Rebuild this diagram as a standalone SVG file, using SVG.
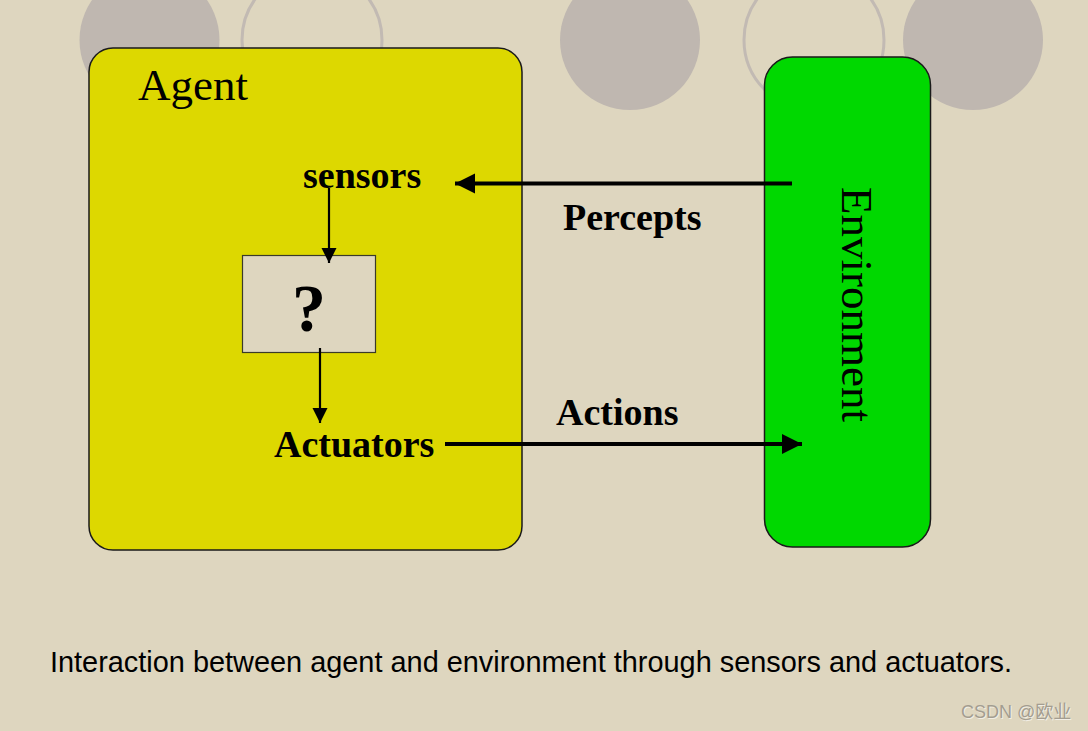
<svg xmlns="http://www.w3.org/2000/svg" width="1088" height="731" viewBox="0 0 1088 731">
<defs>
<style>
.bgc{fill:#BFB7B0;stroke:none}
.oc{fill:none;stroke:#C2BAB3;stroke-width:3}
.box{stroke:#1a1a1a;stroke-width:1.5}
.lbl{font-family:"Liberation Serif","Times New Roman",serif;font-weight:bold;font-size:38px;fill:#000}
.title{font-family:"Liberation Serif","Times New Roman",serif;font-size:45px;fill:#000}
.thin{stroke:#000;stroke-width:2.2;fill:none}
.thick{stroke:#000;stroke-width:4;fill:none}
</style>
<marker id="ahS" markerUnits="userSpaceOnUse" markerWidth="16" markerHeight="16" refX="15" refY="7.5" orient="auto">
<path d="M0,0 L15,7.5 L0,15 Z" fill="#000"/>
</marker>
<marker id="ahL" markerUnits="userSpaceOnUse" markerWidth="21" markerHeight="21" refX="20" refY="10" orient="auto">
<path d="M0,0 L20,10 L0,20 Z" fill="#000"/>
</marker>
</defs>
<rect x="0" y="0" width="1088" height="731" fill="#DED6BF"/>
<g id="decor">
<circle class="bgc" cx="149.5" cy="40" r="70"/>
<circle class="oc" cx="312" cy="40" r="70"/>
<circle class="bgc" cx="630" cy="40" r="70"/>
<circle class="oc" cx="814" cy="40" r="70"/>
<circle class="bgc" cx="973" cy="40" r="70"/>
</g>
<g id="agent">
<rect class="box" x="89" y="48" width="433" height="502" rx="24" ry="24" fill="#DDD800"/>
<text class="title" x="138" y="100">Agent</text>
</g>
<g id="environment">
<rect class="box" x="764.5" y="57" width="166" height="490" rx="28" ry="28" fill="#00D800"/>
<text class="title" transform="translate(842,187) rotate(90)" x="0" y="0">Environment</text>
</g>
<g id="sensors">
<text class="lbl" x="303" y="188">sensors</text>
</g>
<g id="decision">
<rect x="242.5" y="255.5" width="133" height="97" fill="#DED6BF" stroke="#3a3a2a" stroke-width="1.2"/>
<text class="lbl" x="309" y="331" text-anchor="middle" style="font-size:68px">?</text>
</g>
<g id="actuators">
<text class="lbl" x="274" y="457">Actuators</text>
</g>
<g id="connectors">
<line class="thin" x1="329" y1="188" x2="329" y2="263" marker-end="url(#ahS)"/>
<line class="thin" x1="320" y1="348" x2="320" y2="423" marker-end="url(#ahS)"/>
<line class="thick" x1="792" y1="183.5" x2="455" y2="183.5" marker-end="url(#ahL)"/>
<line class="thick" x1="445" y1="444" x2="802" y2="444" marker-end="url(#ahL)"/>
<text class="lbl" x="563" y="230">Percepts</text>
<text class="lbl" x="556" y="425">Actions</text>
</g>
<text x="50" y="672" font-family="'Liberation Sans',Arial,sans-serif" font-size="29" fill="#000" textLength="962" lengthAdjust="spacingAndGlyphs">Interaction between agent and environment through sensors and actuators.</text>
<text x="962" y="719" font-family="'Liberation Sans',Arial,'Noto Sans CJK SC',sans-serif" font-size="18" fill="#F2EEE4">CSDN @欧业</text>
<text x="961" y="718" font-family="'Liberation Sans',Arial,'Noto Sans CJK SC',sans-serif" font-size="18" fill="#A39D90">CSDN @欧业</text>
</svg>
